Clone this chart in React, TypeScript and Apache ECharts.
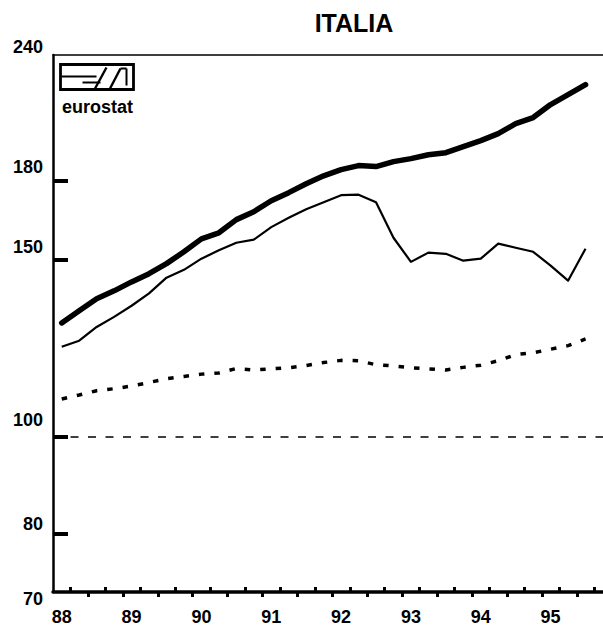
import React, { useEffect, useRef } from "react";
import * as echarts from "echarts";

// Quarterly observations 1988Q1 .. 1995Q3
const quarters = [
  "88Q1","88Q2","88Q3","88Q4","89Q1","89Q2","89Q3","89Q4",
  "90Q1","90Q2","90Q3","90Q4","91Q1","91Q2","91Q3","91Q4",
  "92Q1","92Q2","92Q3","92Q4","93Q1","93Q2","93Q3","93Q4",
  "94Q1","94Q2","94Q3","94Q4","95Q1","95Q2","95Q3",
];
const yearLabels = ["88", "89", "90", "91", "92", "93", "94", "95"];

const thickSeries = [
  129.8, 133.5, 137.2, 139.7, 142.6, 145.3, 148.7, 152.8,
  157.4, 159.6, 164.5, 167.5, 171.8, 175.0, 178.6, 181.9,
  184.5, 186.2, 185.8, 187.9, 189.2, 190.9, 191.8, 194.5,
  197.2, 200.4, 205.0, 207.9, 214.2, 219.1, 224.2,
];
const thinSeries = [
  122.9, 124.6, 128.6, 131.6, 135.0, 138.9, 144.0, 146.6,
  150.4, 153.3, 156.0, 157.1, 161.7, 165.2, 168.5, 171.2,
  174.0, 174.2, 171.2, 157.8, 149.3, 152.5, 152.1, 149.7,
  150.4, 155.7, 154.2, 152.8, 148.0, 143.0, 153.9,
];
const dottedSeries = [
  109.0, 110.0, 111.1, 111.6, 112.3, 113.2, 114.2, 114.8,
  115.4, 115.7, 116.9, 116.5, 116.8, 117.1, 117.7, 118.5,
  119.1, 119.0, 117.9, 117.6, 117.1, 116.8, 116.5, 117.2,
  117.8, 119.0, 120.7, 121.2, 122.2, 123.2, 125.1,
];
const yLabelValues = [70, 80, 100, 150, 180, 240];
const yTickValues = [80, 100, 150, 180];
const baseline = 100;

const FONT = '"Liberation Sans", Arial, sans-serif';

export default function App() {
  const ref = useRef<HTMLDivElement>(null);

  useEffect(() => {
    document.body.style.margin = "0";
    if (!ref.current) return;
    const chart = echarts.init(ref.current, undefined, { renderer: "svg" });

    const toPairs = (arr: number[]) => arr.map((v, i) => [i, v]);
    const labelIdx = yearLabels.map((_, k) => k * 4);
    const upTicks: number[] = [];
    const downTicks: number[] = [];
    for (let i = 0; i < quarters.length; i++) {
      const t = i + 0.5;
      if (i % 2 === 0) upTicks.push(t);
      else downTicks.push(t);
    }

    const xMin = -0.5;
    const xMax = 31;

    const lbl = { fontFamily: FONT, fontWeight: "bold", fontSize: 18, color: "#000" };

    chart.setOption({
      animation: false,
      title: {
        text: "ITALIA",
        left: 354,
        top: 10,
        padding: 0,
        textAlign: "center",
        textStyle: { fontFamily: FONT, fontWeight: "bold", fontSize: 25, color: "#000" },
      },
      grid: { left: 53, right: 0, top: 55, bottom: 43, containLabel: false },
      xAxis: [
        {
          type: "value",
          min: xMin,
          max: xMax,
          position: "bottom",
          axisLine: { show: true, onZero: false, lineStyle: { color: "#000", width: 3.5 } },
          axisTick: {
            show: true,
            inside: false,
            length: 5,
            customValues: downTicks,
            lineStyle: { color: "#000", width: 3 },
          },
          axisLabel: {
            show: true,
            customValues: labelIdx,
            formatter: (v: number) => yearLabels[Math.round(v / 4)] ?? "",
            margin: 16,
            ...lbl,
          },
          splitLine: { show: false },
        },
        {
          type: "value",
          min: xMin,
          max: xMax,
          position: "bottom",
          axisLine: { show: false, onZero: false },
          axisTick: {
            show: true,
            inside: true,
            length: 5,
            customValues: upTicks,
            lineStyle: { color: "#000", width: 3 },
          },
          axisLabel: { show: false },
          splitLine: { show: false },
        },
        {
          type: "value",
          min: xMin,
          max: xMax,
          position: "top",
          axisLine: { show: true, onZero: false, lineStyle: { color: "#000", width: 1.5 } },
          axisTick: { show: false },
          axisLabel: { show: false },
          splitLine: { show: false },
        },
      ],
      yAxis: {
        type: "log",
        logBase: 10,
        min: 70,
        max: 240,
        axisLine: { show: true, onZero: false, lineStyle: { color: "#000", width: 2.5 } },
        axisTick: {
          show: true,
          inside: true,
          length: 15,
          customValues: yTickValues,
          lineStyle: { color: "#000", width: 4 },
        },
        axisLabel: {
          show: true,
          customValues: yLabelValues,
          margin: 10,
          verticalAlign: "middle",
          formatter: (v: number) => `{v${Math.round(v)}|${Math.round(v)}}`,
          rich: {
            v70: { ...lbl, padding: [14, 0, 0, 0] },
            v80: { ...lbl, padding: [0, 0, 20, 0] },
            v100: { ...lbl, padding: [0, 0, 34, 0] },
            v150: { ...lbl, padding: [0, 0, 26, 0] },
            v180: { ...lbl, padding: [0, 0, 26, 0] },
            v240: { ...lbl, padding: [0, 0, 16, 0] },
          },
        },
        splitLine: { show: false },
      },
      series: [
        {
          type: "line",
          name: "thick",
          xAxisIndex: 0,
          data: toPairs(thickSeries),
          symbol: "none",
          lineStyle: { color: "#000", width: 5.5, cap: "round", join: "round" },
          z: 5,
          markLine: {
            silent: true,
            symbol: "none",
            label: { show: false },
            lineStyle: { color: "#000", width: 1.5, type: [8, 9.5] },
            data: [{ yAxis: baseline }],
          },
        },
        {
          type: "line",
          name: "thin",
          xAxisIndex: 0,
          data: toPairs(thinSeries),
          symbol: "none",
          lineStyle: { color: "#000", width: 2.2, join: "round" },
          z: 4,
        },
        {
          type: "line",
          name: "dotted",
          xAxisIndex: 0,
          data: toPairs(dottedSeries),
          symbol: "none",
          lineStyle: { color: "#000", width: 3.5, type: [5.5, 10] },
          z: 3,
        },
      ],
      graphic: [
        {
          type: "group",
          left: 58,
          top: 62,
          children: [
            { type: "rect", shape: { x: 0, y: 0, width: 73, height: 25 }, style: { fill: "none", stroke: "#000", lineWidth: 2.8 } },
            { type: "line", shape: { x1: 1, y1: 12, x2: 36, y2: 12 }, style: { stroke: "#000", lineWidth: 2 } },
            { type: "line", shape: { x1: 22, y1: 18, x2: 40, y2: 18 }, style: { stroke: "#000", lineWidth: 2 } },
            { type: "line", shape: { x1: 34, y1: 25, x2: 46, y2: 3 }, style: { stroke: "#000", lineWidth: 2.4 } },
            { type: "line", shape: { x1: 49, y1: 25, x2: 60, y2: 4 }, style: { stroke: "#000", lineWidth: 2.4 } },
            { type: "line", shape: { x1: 60, y1: 4, x2: 66, y2: 4 }, style: { stroke: "#000", lineWidth: 2 } },
            { type: "line", shape: { x1: 66, y1: 4, x2: 66, y2: 21 }, style: { stroke: "#000", lineWidth: 2 } },
            {
              type: "text",
              x: 37,
              y: 42,
              style: {
                text: "eurostat",
                align: "center",
                verticalAlign: "middle",
                font: `bold 18px ${FONT}`,
                fill: "#000",
              },
            },
          ],
        },
      ],
    });

    return () => chart.dispose();
  }, []);

  return <div ref={ref} style={{ width: 603, height: 635 }} />;
}
